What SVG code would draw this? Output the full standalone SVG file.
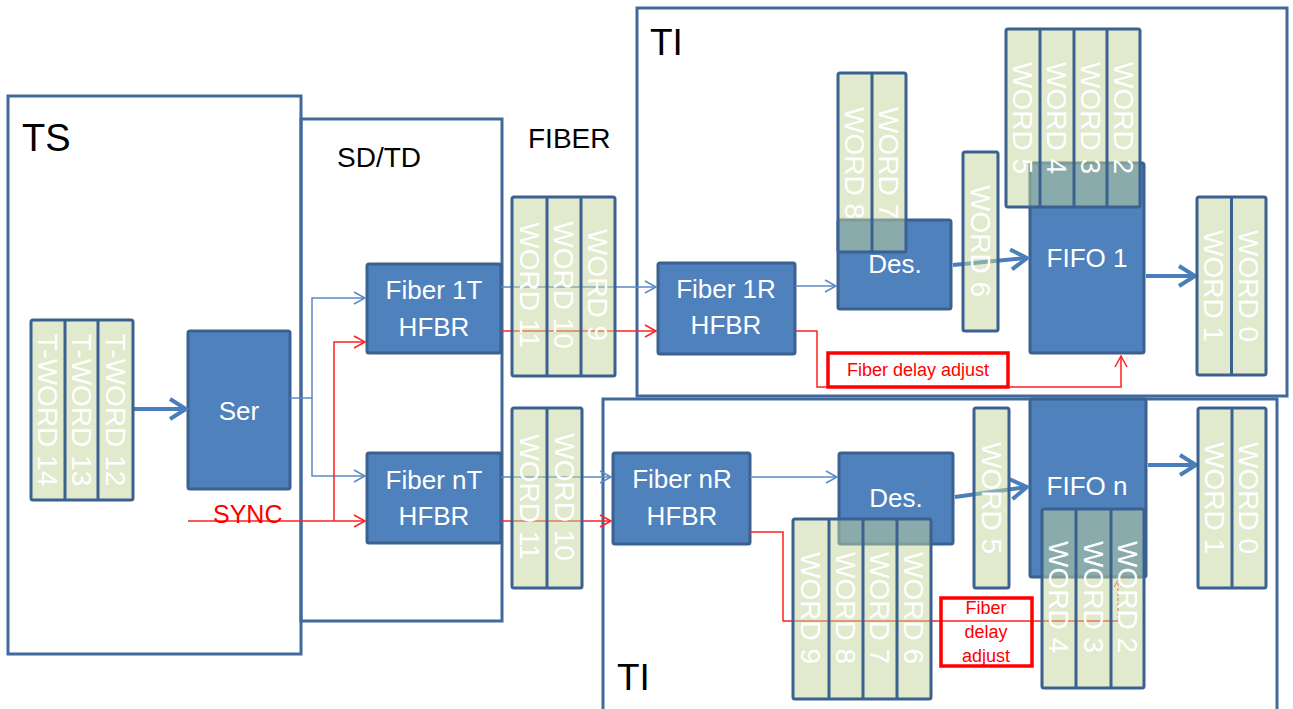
<svg xmlns="http://www.w3.org/2000/svg" width="1293" height="709" viewBox="0 0 1293 709">
<style>
.frame{fill:none;stroke:#41699B;stroke-width:3}
.blk{fill:#4F81BD;stroke:#3B6190;stroke-width:3}
.stk{fill:#C3D69B;fill-opacity:0.5;stroke:#3B6190;stroke-width:3}
.div{stroke:#3B6190;stroke-width:3}
.wt{font-family:"Liberation Sans",Arial,sans-serif;font-size:28px;fill:#FFFFFF;text-anchor:middle}
.bt{font-family:"Liberation Sans",Arial,sans-serif;font-size:26px;fill:#FFFFFF;text-anchor:middle}
.lbl{font-family:"Liberation Sans",Arial,sans-serif;fill:#000000}
.thin{fill:none;stroke:#5A8AC6;stroke-width:1.5}
.red{fill:none;stroke:#FF2020;stroke-width:1.5}
.thick{fill:none;stroke:#4A7EBB;stroke-width:4}
.rbox{stroke:#FF0000;stroke-width:3.5}
.rt{font-family:"Liberation Sans",Arial,sans-serif;font-size:18px;fill:#FF0000;text-anchor:middle}
</style>
<defs>
<marker id="aBlue" markerUnits="userSpaceOnUse" markerWidth="14" markerHeight="14" refX="12" refY="7" orient="auto"><path d="M1,1 L12,7 L1,13" fill="none" stroke="#5A8AC6" stroke-width="1.5"/></marker>
<marker id="aRed" markerUnits="userSpaceOnUse" markerWidth="14" markerHeight="14" refX="12" refY="7" orient="auto"><path d="M1,1 L12,7 L1,13" fill="none" stroke="#FF2020" stroke-width="1.5"/></marker>
<marker id="aRedS" markerUnits="userSpaceOnUse" markerWidth="10" markerHeight="10" refX="8" refY="5" orient="auto"><path d="M1,1 L8,5 L1,9" fill="none" stroke="#FF2020" stroke-width="1"/></marker>
<marker id="aThick" markerUnits="userSpaceOnUse" markerWidth="26" markerHeight="26" refX="19" refY="12" orient="auto"><path d="M3,2 L19,12 L3,22" fill="none" stroke="#4A7EBB" stroke-width="4"/></marker>
</defs>

<g id="frame-ts"><rect class="frame" x="8" y="96" width="293" height="558"/><text class="lbl" x="22" y="151" font-size="38">TS</text></g>
<g id="frame-sdtd"><rect class="frame" x="301" y="119" width="201" height="502"/><text class="lbl" x="337" y="167" font-size="28">SD/TD</text></g>
<g id="label-fiber"><text class="lbl" x="528" y="148" font-size="28">FIBER</text></g>
<g id="frame-ti-1"><rect class="frame" x="637" y="8" width="650" height="388"/><text class="lbl" x="650" y="55" font-size="37">TI</text></g>
<g id="frame-ti-n"><rect class="frame" x="603" y="399" width="674" height="314"/><text class="lbl" x="617" y="690" font-size="37">TI</text></g>

<g id="ser"><rect class="blk" x="188" y="331" width="102" height="158" rx="2"/><text class="bt" x="239" y="420" font-size="28">Ser</text></g>
<g id="fiber-1t"><rect class="blk" x="367" y="264" width="134" height="89" rx="2"/><text class="bt" x="434" y="299">Fiber 1T</text><text class="bt" x="434" y="336">HFBR</text></g>
<g id="fiber-nt"><rect class="blk" x="367" y="453" width="134" height="90" rx="2"/><text class="bt" x="434" y="489">Fiber nT</text><text class="bt" x="434" y="525">HFBR</text></g>
<g id="fiber-1r"><rect class="blk" x="658" y="263" width="137" height="91" rx="2"/><text class="bt" x="726" y="298">Fiber 1R</text><text class="bt" x="726" y="334">HFBR</text></g>
<g id="fiber-nr"><rect class="blk" x="613" y="453" width="137" height="91" rx="2"/><text class="bt" x="682" y="488">Fiber nR</text><text class="bt" x="682" y="525">HFBR</text></g>
<g id="des-1"><rect class="blk" x="838" y="220" width="113" height="89" rx="2"/><text class="bt" x="895" y="273" font-size="24">Des.</text></g>
<g id="des-n"><rect class="blk" x="839" y="453" width="114" height="91" rx="2"/><text class="bt" x="896" y="507" font-size="24">Des.</text></g>
<g id="fifo-1"><rect class="blk" x="1030" y="163" width="114" height="190" rx="2"/><text class="bt" x="1087" y="267" font-size="24">FIFO 1</text></g>
<g id="fifo-n"><rect class="blk" x="1030" y="399" width="116" height="178" rx="2"/><text class="bt" x="1087" y="495" font-size="24">FIFO n</text></g>

<g id="connectors">
<line class="thick" x1="133" y1="409" x2="186" y2="409" marker-end="url(#aThick)"/>
<polyline class="thin" points="290,398 312,398 312,298 365,298" marker-end="url(#aBlue)"/>
<polyline class="thin" points="312,398 312,476 365,476" marker-end="url(#aBlue)"/>
<line class="red" x1="188" y1="521" x2="365" y2="521" marker-end="url(#aRed)"/>
<polyline class="red" points="334,521 334,342 365,342" marker-end="url(#aRed)"/>
<line class="thin" x1="501" y1="287" x2="656" y2="287" marker-end="url(#aBlue)"/>
<line class="red" x1="501" y1="331" x2="656" y2="331" marker-end="url(#aRed)"/>
<line class="thin" x1="501" y1="477" x2="611" y2="477" marker-end="url(#aBlue)"/>
<line class="red" x1="501" y1="521" x2="611" y2="521" marker-end="url(#aRed)"/>
<line class="thin" x1="795" y1="286" x2="836" y2="286" marker-end="url(#aBlue)"/>
<line class="thin" x1="750" y1="477" x2="837" y2="477" marker-end="url(#aBlue)"/>
<line class="thick" x1="953" y1="265" x2="1027" y2="258" marker-end="url(#aThick)"/>
<line class="thick" x1="955" y1="497" x2="1027" y2="487" marker-end="url(#aThick)"/>
<line class="thick" x1="1146" y1="276" x2="1195" y2="276" marker-end="url(#aThick)"/>
<line class="thick" x1="1148" y1="465" x2="1196" y2="465" marker-end="url(#aThick)"/>
<polyline class="red" points="795,331 817,331 817,387 1121,387 1121,356" marker-end="url(#aRed)"/>
<polyline class="red" points="750,532 783,532 783,621 1118,621"/>
<line x1="1118" y1="621" x2="1118" y2="580" stroke="#FF2020" stroke-width="1" stroke-dasharray="3,2" marker-end="url(#aRedS)"/>
</g>

<g id="stack-tword"><rect class="stk" x="31" y="320" width="102" height="180" rx="2"/><line class="div" x1="65" y1="320" x2="65" y2="500"/><line class="div" x1="98" y1="320" x2="98" y2="500"/>
<text class="wt" transform="translate(48,410) rotate(90)" y="10">T-WORD 14</text><text class="wt" transform="translate(81.5,410) rotate(90)" y="10">T-WORD 13</text><text class="wt" transform="translate(115.5,410) rotate(90)" y="10">T-WORD 12</text></g>

<g id="stack-fiber-1"><rect class="stk" x="512" y="197" width="103" height="179" rx="2"/><line class="div" x1="547" y1="197" x2="547" y2="376"/><line class="div" x1="581" y1="197" x2="581" y2="376"/>
<text class="wt" transform="translate(529.5,285) rotate(90)" y="10">WORD 11</text><text class="wt" transform="translate(564,285) rotate(90)" y="10">WORD 10</text><text class="wt" transform="translate(598,285) rotate(90)" y="10">WORD 9</text></g>

<g id="stack-fiber-n"><rect class="stk" x="512" y="408" width="70" height="180" rx="2"/><line class="div" x1="547" y1="408" x2="547" y2="588"/>
<text class="wt" transform="translate(529.5,497) rotate(90)" y="10">WORD 11</text><text class="wt" transform="translate(564.5,497) rotate(90)" y="10">WORD 10</text></g>

<g id="stack-des-1"><rect class="stk" x="838" y="73" width="68" height="179" rx="2"/><line class="div" x1="872" y1="73" x2="872" y2="252"/>
<text class="wt" transform="translate(855,163) rotate(90)" y="10">WORD 8</text><text class="wt" transform="translate(889,163) rotate(90)" y="10">WORD 7</text></g>

<g id="stack-word6"><rect class="stk" x="963" y="152" width="35" height="179" rx="2"/>
<text class="wt" transform="translate(980.5,241) rotate(90)" y="10">WORD 6</text></g>

<g id="stack-fifo-1"><rect class="stk" x="1006" y="29" width="134" height="178" rx="2"/><line class="div" x1="1040" y1="29" x2="1040" y2="207"/><line class="div" x1="1074" y1="29" x2="1074" y2="207"/><line class="div" x1="1107" y1="29" x2="1107" y2="207"/>
<text class="wt" transform="translate(1023,118) rotate(90)" y="10">WORD 5</text><text class="wt" transform="translate(1057,118) rotate(90)" y="10">WORD 4</text><text class="wt" transform="translate(1090.5,118) rotate(90)" y="10">WORD 3</text><text class="wt" transform="translate(1123.5,118) rotate(90)" y="10">WORD 2</text></g>

<g id="stack-out-1"><rect class="stk" x="1197" y="197" width="69" height="178" rx="2"/><line class="div" x1="1231.5" y1="197" x2="1231.5" y2="375"/>
<text class="wt" transform="translate(1214,286) rotate(90)" y="10">WORD 1</text><text class="wt" transform="translate(1249,286) rotate(90)" y="10">WORD 0</text></g>

<g id="stack-des-n"><rect class="stk" x="793" y="519" width="138" height="180" rx="2"/><line class="div" x1="829" y1="519" x2="829" y2="699"/><line class="div" x1="863" y1="519" x2="863" y2="699"/><line class="div" x1="897" y1="519" x2="897" y2="699"/>
<text class="wt" transform="translate(811,608) rotate(90)" y="10">WORD 9</text><text class="wt" transform="translate(846,608) rotate(90)" y="10">WORD 8</text><text class="wt" transform="translate(880,608) rotate(90)" y="10">WORD 7</text><text class="wt" transform="translate(914,608) rotate(90)" y="10">WORD 6</text></g>

<g id="stack-word5"><rect class="stk" x="974" y="408" width="35" height="180" rx="2"/>
<text class="wt" transform="translate(991.5,498) rotate(90)" y="10">WORD 5</text></g>

<g id="stack-fifo-n"><rect class="stk" x="1042" y="509" width="102" height="179" rx="2"/><line class="div" x1="1076" y1="509" x2="1076" y2="688"/><line class="div" x1="1111" y1="509" x2="1111" y2="688"/>
<text class="wt" transform="translate(1059,597) rotate(90)" y="10">WORD 4</text><text class="wt" transform="translate(1093.5,597) rotate(90)" y="10">WORD 3</text><text class="wt" transform="translate(1127.5,597) rotate(90)" y="10">WORD 2</text></g>

<g id="stack-out-n"><rect class="stk" x="1198" y="408" width="68" height="180" rx="2"/><line class="div" x1="1232" y1="408" x2="1232" y2="588"/>
<text class="wt" transform="translate(1215,498) rotate(90)" y="10">WORD 1</text><text class="wt" transform="translate(1249,498) rotate(90)" y="10">WORD 0</text></g>

<g id="delay-1"><rect class="rbox" x="828" y="353" width="180" height="34" fill="#FFFFFF"/><text class="rt" x="918" y="376">Fiber delay adjust</text></g>
<g id="delay-n"><rect class="rbox" x="941" y="598" width="91" height="68" fill="none"/><text class="rt" x="986" y="614">Fiber</text><text class="rt" x="986" y="638">delay</text><text class="rt" x="986" y="662">adjust</text></g>
<g id="label-sync"><text x="213" y="523" font-family="'Liberation Sans',Arial,sans-serif" font-size="25" fill="#FF0000">SYNC</text></g>
</svg>
